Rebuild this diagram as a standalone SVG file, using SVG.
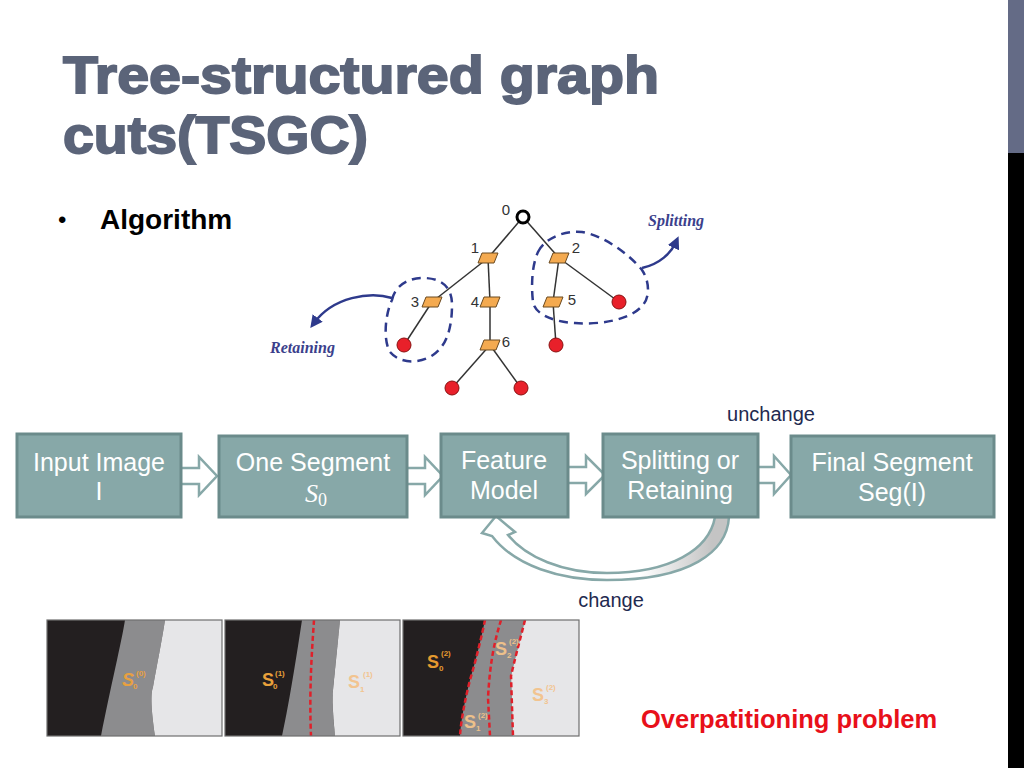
<svg xmlns="http://www.w3.org/2000/svg" width="1024" height="768" viewBox="0 0 1024 768">
<style>
.title{font-family:"Liberation Sans",Arial,sans-serif;font-weight:bold;font-size:52px;fill:#5B6479;stroke:#5B6479;stroke-width:1.8px}
.box{fill:#87A8A8;stroke:#6B8B8B;stroke-width:3}
.btxt{font-family:"Liberation Sans",Arial,sans-serif;font-size:25px;fill:#ffffff;text-anchor:middle}
.barrow{fill:#ffffff;stroke:#87A8A8;stroke-width:2.5;stroke-linejoin:miter}
.lbl{font-family:"Liberation Sans",Arial,sans-serif;font-size:20px;fill:#1F2A50;text-anchor:middle}
.edge{stroke:#333333;stroke-width:1.5;fill:none}
.leaf{fill:#E8202A;stroke:#8A1010;stroke-width:1}
.tnum{font-family:"Liberation Sans",Arial,sans-serif;font-size:15px;fill:#333333;text-anchor:middle}
.dash{fill:none;stroke:#2E3A8C;stroke-width:2.5;stroke-dasharray:9 6}
.curv{fill:none;stroke:#2E3A8C;stroke-width:2.5}
.ital{font-family:"Liberation Serif","Times New Roman",serif;font-style:italic;font-weight:bold;font-size:16px;fill:#3B3F8C}
.redd{fill:none;stroke:#E0202A;stroke-width:2.5;stroke-dasharray:5 3}
.sl{font-family:"Liberation Sans",Arial,sans-serif;font-weight:bold;font-size:18px}
.ss{font-family:"Liberation Sans",Arial,sans-serif;font-weight:bold;font-size:8px}
</style>
<defs>
<path id="para" d="M-6,-5 L10,-5 L6,5 L-10,5 Z" fill="#F4AA50" stroke="#6B4A20" stroke-width="1"/>
<marker id="ah" viewBox="0 0 10 10" refX="5" refY="5" markerWidth="5" markerHeight="5" orient="auto">
<path d="M0,0 L10,5 L0,10 Z" fill="#2E3A8C"/>
</marker>
<linearGradient id="gr" gradientUnits="userSpaceOnUse" x1="640" y1="0" x2="712" y2="0">
<stop offset="0" stop-color="#ffffff"/>
<stop offset="1" stop-color="#C4C4C4"/>
</linearGradient>
<clipPath id="c1"><rect x="47" y="620" width="175" height="116"/></clipPath>
<clipPath id="c2"><rect x="225" y="620" width="175" height="116"/></clipPath>
<clipPath id="c3"><rect x="403" y="620" width="176" height="116"/></clipPath>
</defs>
<rect width="1024" height="768" fill="#ffffff"/>
<rect x="1008" y="0" width="16" height="153" fill="#646B86"/>
<rect x="1008" y="153" width="16" height="615" fill="#000000"/>

<g id="title">
<text class="title" x="63" y="93" textLength="596" lengthAdjust="spacingAndGlyphs">Tree-structured graph</text>
<text class="title" x="63" y="153" textLength="305" lengthAdjust="spacingAndGlyphs">cuts(TSGC)</text>
</g>
<g id="bullet">
<text x="58" y="228" font-family="Liberation Sans,Arial,sans-serif" font-size="24" fill="#000">•</text>
<text x="100" y="229" font-family="Liberation Sans,Arial,sans-serif" font-size="28" font-weight="bold" fill="#000">Algorithm</text>
</g>

<g id="tree">
<g id="tree-edges">
<line class="edge" x1="523" y1="217" x2="488" y2="258"/>
<line class="edge" x1="523" y1="217" x2="559" y2="258"/>
<line class="edge" x1="488" y1="258" x2="432" y2="302"/>
<line class="edge" x1="488" y1="258" x2="490" y2="302"/>
<line class="edge" x1="432" y1="302" x2="404" y2="345"/>
<line class="edge" x1="490" y1="302" x2="490" y2="345"/>
<line class="edge" x1="490" y1="345" x2="452" y2="388"/>
<line class="edge" x1="490" y1="345" x2="521" y2="388"/>
<line class="edge" x1="559" y1="258" x2="553" y2="302"/>
<line class="edge" x1="559" y1="258" x2="619" y2="302"/>
<line class="edge" x1="553" y1="302" x2="556" y2="345"/>
</g>
<g id="t0"><circle cx="523" cy="217" r="6" fill="#ffffff" stroke="#000" stroke-width="3"/><text class="tnum" x="506" y="215">0</text></g>
<g id="t1"><use href="#para" x="488" y="258"/><text class="tnum" x="475" y="253">1</text></g>
<g id="t2"><use href="#para" x="559" y="258"/><text class="tnum" x="576" y="253">2</text></g>
<g id="t3"><use href="#para" x="432" y="302"/><text class="tnum" x="415" y="307">3</text></g>
<g id="t4"><use href="#para" x="490" y="302"/><text class="tnum" x="475" y="307">4</text></g>
<g id="t5"><use href="#para" x="553" y="302"/><text class="tnum" x="572" y="305">5</text></g>
<g id="t6"><use href="#para" x="490" y="345"/><text class="tnum" x="506" y="347">6</text></g>
<circle class="leaf" cx="404" cy="345" r="7"/>
<circle class="leaf" cx="452" cy="388" r="7"/>
<circle class="leaf" cx="521" cy="388" r="7"/>
<circle class="leaf" cx="556" cy="345" r="7"/>
<circle class="leaf" cx="619" cy="302" r="7"/>
<path class="dash" d="M392,300 C395,285 410,277 425,278 C445,279 452,290 452,305 C452,325 448,345 433,355 C420,364 400,364 390,352 C383,340 385,315 392,300 Z"/>
<path class="dash" d="M538,252 C545,238 565,230 582,232 C605,236 630,255 642,270 C650,282 650,298 642,306 C630,320 600,325 575,323 C555,322 535,315 533,302 C531,285 532,265 538,252 Z"/>
<path class="curv" d="M392,298 C370,291 333,297 314,323" marker-end="url(#ah)"/>
<path class="curv" d="M642,268 C660,264 671,253 676,242" marker-end="url(#ah)"/>
<text class="ital" x="270" y="353">Retaining</text>
<text class="ital" x="648" y="226">Splitting</text>
</g>

<g id="connectors">
<path class="barrow" d="M181,468 L199,468 L199,457 L217,476 L199,495 L199,484 L181,484"/>
<path class="barrow" d="M407,468 L425,468 L425,457 L443,476 L425,495 L425,484 L407,484"/>
<path class="barrow" d="M568,467 L586,467 L586,456 L605,475 L586,494 L586,483 L568,483"/>
<path class="barrow" d="M758,467 L774,467 L774,456 L791,475 L774,494 L774,483 L758,483"/>
<path d="M729,517 C727,552 690,580 607,580 C560,580 515,566 492,536 L482,533 L496,516 L515,532 L508,535 C526,557 562,573 607,573 C670,573 709,550 715,517 Z" fill="url(#gr)" stroke="#87A8A8" stroke-width="2.5" stroke-linejoin="miter"/>
</g>

<g id="n1"><rect class="box" x="17" y="434" width="164" height="83"/><text class="btxt" x="99" y="471">Input Image</text><text class="btxt" x="99" y="500">I</text></g>
<g id="n2"><rect class="box" x="219" y="436" width="188" height="81"/><text class="btxt" x="313" y="471">One Segment</text><text x="305" y="502" font-family="Liberation Serif,serif" font-size="26" fill="#fff"><tspan font-style="italic">S</tspan><tspan font-size="18" dy="4">0</tspan></text></g>
<g id="n3"><rect class="box" x="441" y="434" width="127" height="83"/><text class="btxt" x="504" y="469">Feature</text><text class="btxt" x="504" y="499">Model</text></g>
<g id="n4"><rect class="box" x="603" y="434" width="155" height="83"/><text class="btxt" x="680" y="469">Splitting or</text><text class="btxt" x="680" y="499">Retaining</text></g>
<g id="n5"><rect class="box" x="791" y="436" width="203" height="81"/><text class="btxt" x="892" y="471">Final Segment</text><text class="btxt" x="892" y="501">Seg(I)</text></g>

<text class="lbl" x="771" y="421">unchange</text>
<text class="lbl" x="611" y="607">change</text>

<g id="img1">
<g clip-path="url(#c1)">
<rect x="47" y="620" width="175" height="116" fill="#231F20"/>
<path d="M125,620 C122,640 110,690 101,736 L155,736 C152,715 150,695 153,687 C156,670 162,640 165,620 Z" fill="#8C8C8E"/>
<path d="M165,620 C162,640 156,670 153,687 C150,695 152,715 155,736 L222,736 L222,620 Z" fill="#E6E6E8"/>
</g>
<rect x="47" y="620" width="175" height="116" fill="none" stroke="#6E6E6E" stroke-width="1.2"/>
<text class="sl" x="122" y="686" fill="#E8A040" font-style="italic">S</text><text class="ss" x="133" y="689" fill="#E8A040">0</text><text class="ss" x="136" y="676" fill="#E8A040">(0)</text>
</g>
<g id="img2">
<g clip-path="url(#c2)">
<rect x="225" y="620" width="175" height="116" fill="#231F20"/>
<path d="M302,620 C299,640 290,700 282,736 L335,736 C333,715 332,700 333,690 C335,670 338,640 340,620 Z" fill="#8C8C8E"/>
<path d="M340,620 C338,640 335,670 333,690 C332,700 333,715 335,736 L400,736 L400,620 Z" fill="#E6E6E8"/>
<path class="redd" d="M314,620 C312,650 309,690 311,736"/>
</g>
<rect x="225" y="620" width="175" height="116" fill="none" stroke="#6E6E6E" stroke-width="1.2"/>
<text class="sl" x="262" y="686" fill="#E9A13B">S</text><text class="ss" x="273" y="689" fill="#E9A13B">0</text><text class="ss" x="275" y="676" fill="#E9A13B">(1)</text>
<text class="sl" x="348" y="688" fill="#F2C490" font-weight="normal">S</text><text class="ss" x="360" y="692" fill="#F2C490">1</text><text class="ss" x="363" y="677" fill="#F2C490">(1)</text>
</g>
<g id="img3">
<g clip-path="url(#c3)">
<rect x="403" y="620" width="176" height="116" fill="#231F20"/>
<path d="M485,620 C482,635 476,660 470,680 C465,700 461,720 460,736 L513,736 L511,676 C514,662 520,640 525,620 Z" fill="#8C8C8E"/>
<path d="M525,620 C520,640 514,662 511,676 L513,736 L579,736 L579,620 Z" fill="#E6E6E8"/>
<path class="redd" d="M485,620 C482,635 476,660 470,680 C465,700 461,720 460,736"/>
<path class="redd" d="M501,620 C495,640 490,660 488,698 L490,736"/>
<path class="redd" d="M525,620 C520,640 514,662 511,676 L513,736"/>
</g>
<rect x="403" y="620" width="176" height="116" fill="none" stroke="#6E6E6E" stroke-width="1.2"/>
<text class="sl" x="427" y="668" fill="#E59A2F">S</text><text class="ss" x="439" y="671" fill="#E59A2F">0</text><text class="ss" x="441" y="656" fill="#E59A2F">(2)</text>
<text class="sl" x="495" y="655" fill="#EDC08A" font-weight="normal">S</text><text class="ss" x="507" y="658" fill="#EDC08A">2</text><text class="ss" x="509" y="644" fill="#EDC08A">(2)</text>
<text class="sl" x="532" y="701" fill="#F2C490" font-weight="normal">S</text><text class="ss" x="544" y="704" fill="#F2C490">3</text><text class="ss" x="546" y="690" fill="#F2C490">(2)</text>
<text class="sl" x="464" y="728" fill="#EDC08A" font-weight="normal">S</text><text class="ss" x="476" y="731" fill="#EDC08A">1</text><text class="ss" x="478" y="718" fill="#EDC08A">(2)</text>
</g>

<text x="641" y="728" font-family="Liberation Sans,Arial,sans-serif" font-size="25.5" font-weight="bold" fill="#E8101A">Overpatitioning problem</text>
</svg>
